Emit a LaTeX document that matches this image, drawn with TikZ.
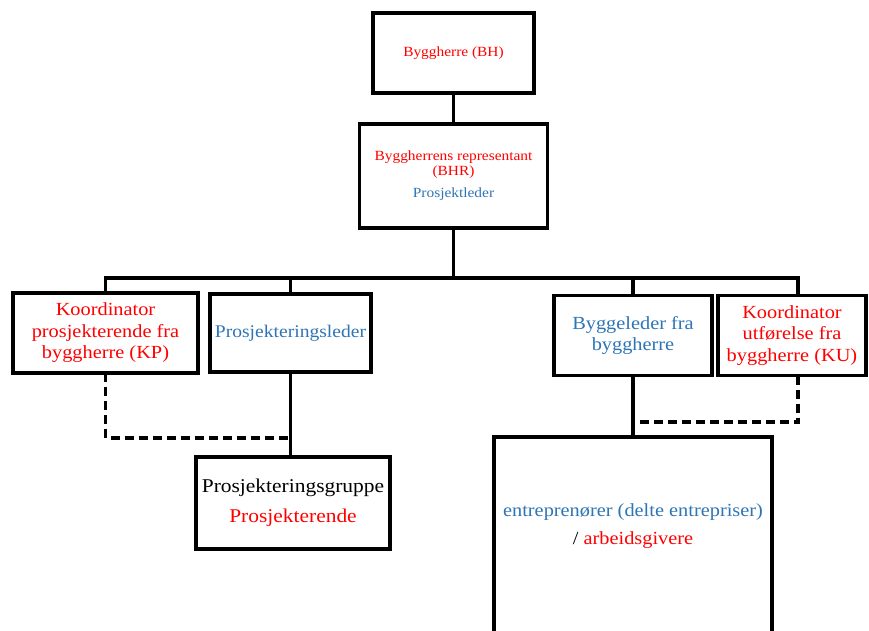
\documentclass[tikz,border=0pt]{standalone}
\usepackage{fontspec}
\setmainfont[FakeStretch=1.1]{Liberation Serif}
\usetikzlibrary{positioning}
\definecolor{bhred}{RGB}{255,0,0}
\definecolor{bhblue}{RGB}{46,117,182}

\begin{document}
\begin{tikzpicture}[x=1pt, y=-1pt,
  node distance=12pt,
  box/.style={draw, line width=3.4pt, outer sep=0pt, inner sep=2pt, align=center, fill=white},
  topbox/.style={box, text=bhred, font=\fontsize{14}{15}\selectfont},
  rolebox/.style={box, font=\fontsize{18.5}{21.5}\selectfont},
  link/.style={line width=3.4pt},
  dashlink/.style={line width=3.4pt, dash pattern=on 9pt off 5pt}
]
  \useasboundingbox (0,0) rectangle (869,631);
  \clip (0,0) rectangle (869,631);
  \fill[white] (0,0) rectangle (869,631);

  \node[topbox, minimum width=161pt, minimum height=80pt] (bh) at (453.5,53) {Byggherre (BH)};
  \node[topbox, minimum width=188pt, minimum height=104pt, below=31pt of bh] (bhr)
    {Byggherrens representant\\(BHR)\\[7pt]\textcolor{bhblue}{Prosjektleder}};

  \node[rolebox, text=bhred, minimum width=185pt, minimum height=80pt] (kp) at (105.5,333)
    {Koordinator\\prosjekterende fra\\byggherre (KP)};
  \node[rolebox, text=bhblue, minimum width=161pt, minimum height=78pt, right=12pt of kp,
    font=\fontsize{17.8}{21.5}\selectfont] (pl) {Prosjekteringsleder};
  \node[rolebox, text=bhblue, minimum width=158pt, minimum height=80pt] (bl) at (633,335.5) {Byggeleder fra\\byggherre};
  \node[rolebox, text=bhred, minimum width=148pt, minimum height=80pt, right=6pt of bl] (ku)
    {Koordinator\\utførelse fra\\byggherre (KU)};

  \node[box, font=\fontsize{19.5}{22.5}\selectfont, minimum width=194pt, minimum height=92pt] (pg) at (293,503)
    {Prosjekteringsgruppe\\[7.5pt]\textcolor{bhred}{Prosjekterende}};
  \node[box, minimum width=278pt, minimum height=260pt, anchor=north] (ent) at (633,437) {};
  \node[font=\fontsize{18.5}{21.5}\selectfont, align=center] (enttext) at ([yshift=-89pt]ent.north)
    {\textcolor{bhblue}{entreprenører (delte entrepriser)}\\[6.5pt]/ \textcolor{bhred}{arbeidsgivere}};

  % connectors
  \coordinate (bus) at (453.5,278);
  \coordinate (kpjoin) at (291,438);
  \coordinate (kujoin) at (633,422);
  \draw[link] (bh) -- (bhr);
  \draw[link] (bhr) -- (bus);
  \draw[link] (kp.north) |- (bus) -| ([xshift=6pt]ku.north);
  \draw[link] (pl.north) -- (pl.north |- bus);
  \draw[link] (bl.north) -- (bl.north |- bus);
  \draw[link] (pl.south) -- (pl.south |- pg.north);
  \draw[link] (bl.south) -- (ent.north);
  \draw[dashlink] (kp.south) |- (kpjoin);
  \draw[dashlink] ([xshift=6pt]ku.south) |- (kujoin);
\end{tikzpicture}
\end{document}
